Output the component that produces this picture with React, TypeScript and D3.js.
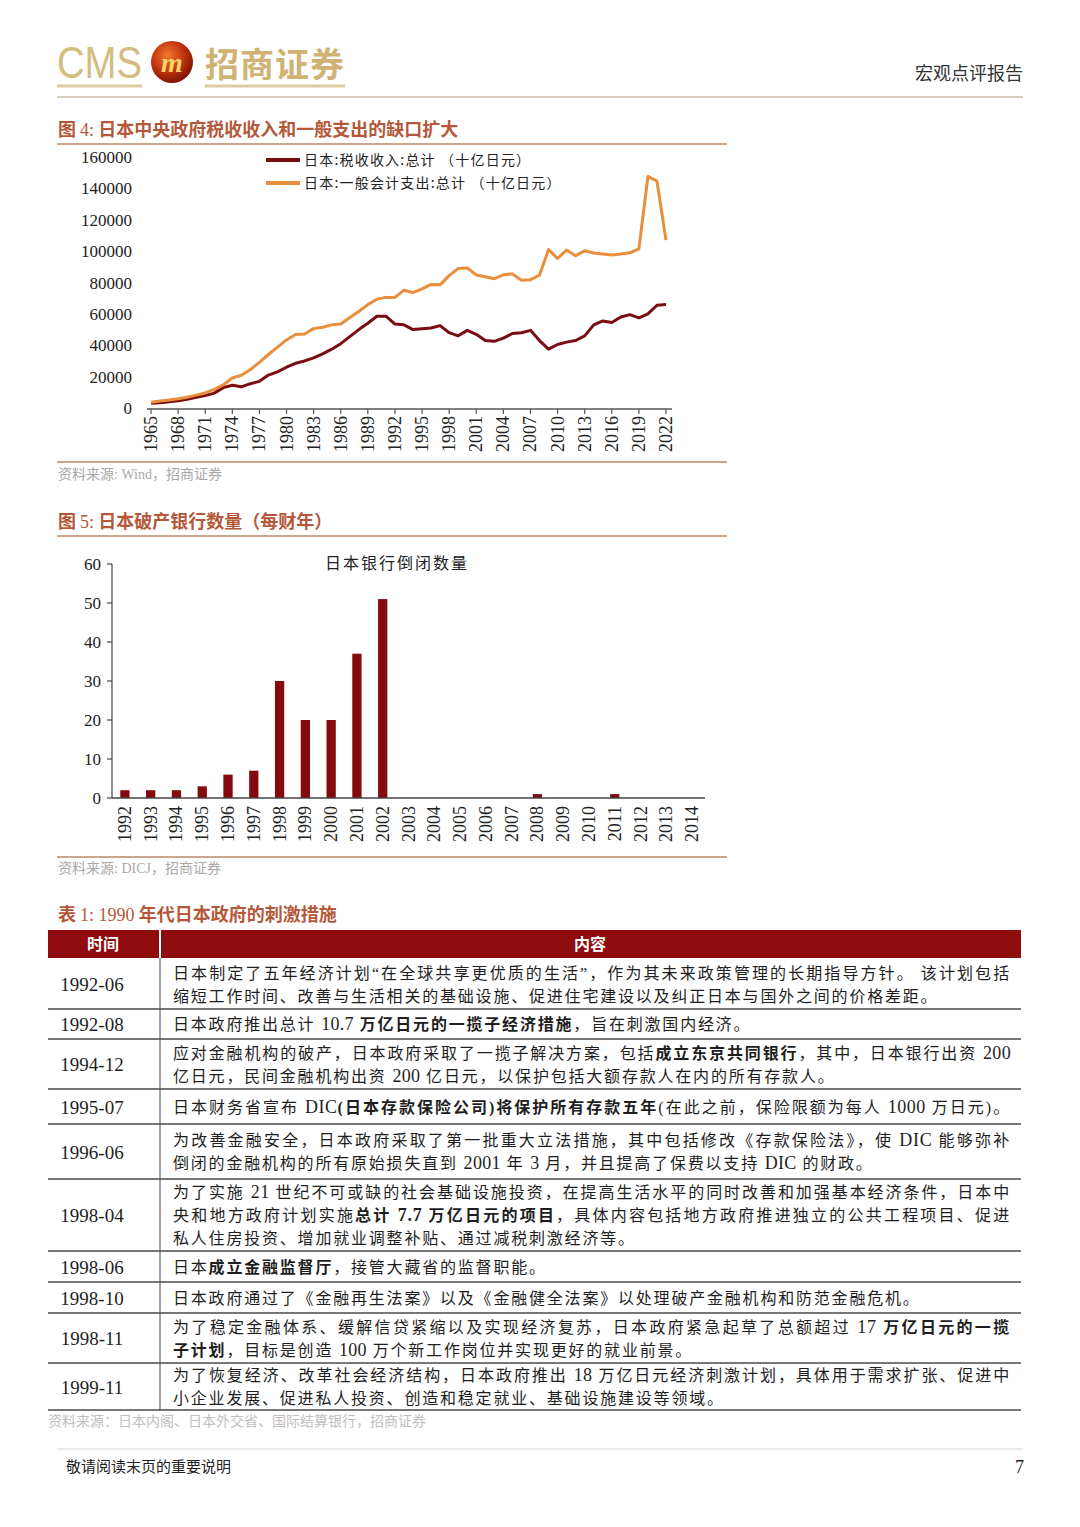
import React from 'react';
import * as d3 from 'd3';

const SERIF = "'Liberation Serif', 'DejaVu Serif', 'Noto Sans CJK SC', serif";
const CJK = "'Noto Sans CJK SC', 'Noto Sans CJK JP', sans-serif";
const TITLE_COLOR = '#B5583A';
const RULE_COLOR = '#C9A68C';
const SOURCE_COLOR = '#A8A8A8';

// 图4 data (十亿日元), 1965-2022
const startYear = 1965;
const taxRevenue = [
  3000, 3300, 3900, 4600, 5500, 6900, 7900, 9500, 13000, 14500,
  13500, 15500, 17000, 21000, 23000, 26000, 28500, 30000, 32000, 34500,
  37500, 41000, 45500, 50000, 54000, 58500, 58500, 53500, 53000, 50000,
  50500, 51000, 52500, 48000, 46000, 49500, 47000, 43000, 42500, 44500,
  47500, 48000, 49500, 43000, 37500, 40500, 42000, 43000, 46000, 53000,
  55500, 54500, 58000, 59500, 57500, 60000, 65500, 66000,
];
const generalExpenditure = [
  3700, 4500, 5100, 5900, 6900, 8200, 9600, 11900, 14700, 19100,
  20900, 24500, 29100, 34100, 38800, 43400, 46900, 47200, 50600, 51500,
  53000, 53600, 57700, 61500, 65900, 69300, 70500, 70500, 75100, 73600,
  75900, 78800, 78500, 84400, 89000, 89300, 84800, 83700, 82400, 84900,
  85500, 81400, 81800, 84700, 101000, 95300, 100700, 97100, 100200, 98800,
  98200, 97500, 98100, 98900, 101400, 147600, 144600, 107000,
];
const lineYears = taxRevenue.map((_, i) => startYear + i);
const lineTickYears = [1965, 1968, 1971, 1974, 1977, 1980, 1983, 1986, 1989, 1992, 1995, 1998, 2001, 2004, 2007, 2010, 2013, 2016, 2019, 2022];
const lineYTicks = [0, 20000, 40000, 60000, 80000, 100000, 120000, 140000, 160000];
const seriesNames = ['日本:税收收入:总计 （十亿日元）', '日本:一般会计支出:总计 （十亿日元）'];
const seriesColors = ['#7A0D12', '#E98E3C'];

// 图5 data
const bankYears = ['1992', '1993', '1994', '1995', '1996', '1997', '1998', '1999', '2000', '2001', '2002', '2003', '2004', '2005', '2006', '2007', '2008', '2009', '2010', '2011', '2012', '2013', '2014'];
const bankFailures = [2, 2, 2, 3, 6, 7, 30, 20, 20, 37, 51, 0, 0, 0, 0, 0, 1, 0, 0, 1, 0, 0, 0];
const barYTicks = [0, 10, 20, 30, 40, 50, 60];

// 表1
const tableDates = ['1992-06', '1992-08', '1994-12', '1995-07', '1996-06', '1998-04', '1998-06', '1998-10', '1998-11', '1999-11'];
const tableLines = [
  ['日本制定了五年经济计划“在全球共享更优质的生活”，作为其未来政策管理的长期指导方针。 该计划包括', '缩短工作时间、改善与生活相关的基础设施、促进住宅建设以及纠正日本与国外之间的价格差距。'],
  ['日本政府推出总计 10.7 **万亿日元的一揽子经济措施**，旨在刺激国内经济。'],
  ['应对金融机构的破产，日本政府采取了一揽子解决方案，包括**成立东京共同银行**，其中，日本银行出资 200', '亿日元，民间金融机构出资 200 亿日元，以保护包括大额存款人在内的所有存款人。'],
  ['日本财务省宣布 DIC**(日本存款保险公司)将保护所有存款五年**(在此之前，保险限额为每人 1000 万日元)。'],
  ['为改善金融安全，日本政府采取了第一批重大立法措施，其中包括修改《存款保险法》，使 DIC 能够弥补', '倒闭的金融机构的所有原始损失直到 2001 年 3 月，并且提高了保费以支持 DIC 的财政。'],
  ['为了实施 21 世纪不可或缺的社会基础设施投资，在提高生活水平的同时改善和加强基本经济条件，日本中', '央和地方政府计划实施**总计 7.7 万亿日元的项目**，具体内容包括地方政府推进独立的公共工程项目、促进', '私人住房投资、增加就业调整补贴、通过减税刺激经济等。'],
  ['日本**成立金融监督厅**，接管大藏省的监督职能。'],
  ['日本政府通过了《金融再生法案》以及《金融健全法案》以处理破产金融机构和防范金融危机。'],
  ['为了稳定金融体系、缓解信贷紧缩以及实现经济复苏，日本政府紧急起草了总额超过 17 **万亿日元的一揽**', '**子计划**，目标是创造 100 万个新工作岗位并实现更好的就业前景。'],
  ['为了恢复经济、改革社会经济结构，日本政府推出 18 万亿日元经济刺激计划，具体用于需求扩张、促进中', '小企业发展、促进私人投资、创造和稳定就业、基础设施建设等领域。'],
];
const rowHeights = [50, 30, 50, 35, 55, 72, 31, 31, 50, 47];
const fullWidthLines = [[true, false], [false], [true, false], [true], [true, false], [true, true, false], [false], [false], [true, false], [true, false]];

const LineChart: React.FC = () => {
  const x = d3.scaleLinear().domain([1965, 2022]).range([151, 666]);
  const y = d3.scaleLinear().domain([0, 160000]).range([408, 157]);
  const line = d3.line<number>().x((_, i) => x(lineYears[i])).y(d => y(d));
  const series = [taxRevenue, generalExpenditure];
  return (
    <g>
      <text x={58} y={136} fontFamily={CJK} fontSize={18} fontWeight={700} fill={TITLE_COLOR}>
        图 <tspan fontFamily={SERIF} fontWeight={400}>4:</tspan>  日本中央政府税收收入和一般支出的缺口扩大
      </text>
      <line x1={57} x2={727} y1={144} y2={144} stroke={RULE_COLOR} strokeWidth={2} />
      {lineYTicks.map(t => (
        <text key={t} x={132} y={y(t) + 6} textAnchor="end" fontFamily={SERIF} fontSize={17} fill="#222">{t}</text>
      ))}
      <line x1={147} x2={672} y1={409} y2={409} stroke="#555" strokeWidth={1.5} />
      {lineTickYears.map(t => (
        <g key={t} transform={`translate(${x(t)},409)`}>
          <line y2={5} stroke="#555" strokeWidth={1.2} />
          <text transform="translate(6,7) rotate(-90)" textAnchor="end" fontFamily={SERIF} fontSize={18} fill="#222">{t}</text>
        </g>
      ))}
      {series.map((s, i) => (
        <path key={i} d={line(s) || ''} fill="none" stroke={seriesColors[i]} strokeWidth={3} strokeLinejoin="round" />
      ))}
      {seriesNames.map((n, i) => (
        <g key={n} transform={`translate(266,${160 + i * 23})`}>
          <line x1={0} x2={34} stroke={seriesColors[i]} strokeWidth={4} />
          <text x={38} y={5} fontFamily={CJK} fontSize={14} letterSpacing={1.2} fill="#222">{n}</text>
        </g>
      ))}
      <line x1={57} x2={727} y1={462} y2={462} stroke={RULE_COLOR} strokeWidth={2} />
      <text x={58} y={479} fontFamily={SERIF} fontSize={14} fill={SOURCE_COLOR}>资料来源:   Wind，招商证券</text>
    </g>
  );
};

const BarChart: React.FC = () => {
  const x = d3.scaleBand<string>().domain(bankYears).range([112, 705]).paddingInner(0.64).paddingOuter(0.32);
  const y = d3.scaleLinear().domain([0, 60]).range([798, 564]);
  return (
    <g>
      <text x={58} y={528} fontFamily={CJK} fontSize={18} fontWeight={700} fill={TITLE_COLOR}>
        图 <tspan fontFamily={SERIF} fontWeight={400}>5:</tspan>  日本破产银行数量（每财年）
      </text>
      <line x1={57} x2={727} y1={536} y2={536} stroke={RULE_COLOR} strokeWidth={2} />
      <text x={397} y={569} textAnchor="middle" fontFamily={CJK} fontSize={16} letterSpacing={2} fill="#222">日本银行倒闭数量</text>
      {bankYears.map((yr, i) => (
        <rect key={yr} x={x(yr)} y={y(bankFailures[i])} width={x.bandwidth()} height={y(0) - y(bankFailures[i])} fill="#840A0E" />
      ))}
      <line x1={112} x2={112} y1={564} y2={798} stroke="#444" strokeWidth={1.2} />
      {barYTicks.map(t => (
        <g key={t}>
          <line x1={107} x2={112} y1={y(t)} y2={y(t)} stroke="#444" strokeWidth={1.2} />
          <text x={101} y={y(t) + 6} textAnchor="end" fontFamily={SERIF} fontSize={17} fill="#222">{t}</text>
        </g>
      ))}
      <line x1={112} x2={705} y1={798} y2={798} stroke="#444" strokeWidth={1.5} />
      {bankYears.map(yr => (
        <text key={yr} transform={`translate(${(x(yr) || 0) + x.bandwidth() / 2 + 6},806) rotate(-90)`} textAnchor="end" fontFamily={SERIF} fontSize={18} fill="#222">{yr}</text>
      ))}
      <line x1={57} x2={727} y1={857} y2={857} stroke={RULE_COLOR} strokeWidth={2} />
      <text x={58} y={873} fontFamily={SERIF} fontSize={14} fill={SOURCE_COLOR}>资料来源:   DICJ，招商证券</text>
    </g>
  );
};

// render one table line: **bold** segments, latin/digit runs in serif without extra spacing
const RichLine: React.FC<{ text: string; y: number; full: boolean }> = ({ text, y, full }) => {
  const parts = text.split('**');
  return (
    <text x={173} y={y} fontFamily={SERIF} fontSize={16} letterSpacing={1.8} fill="#1e1e1e"
      {...(full ? { textLength: 838, lengthAdjust: 'spacing' } : {})}>
      {parts.flatMap((p, i) =>
        p.split(/([A-Za-z\d][A-Za-z\d.]*)/).filter(s => s.length > 0).map((s, k) => {
          const latin = /^[A-Za-z\d]/.test(s);
          return (
            <tspan key={`${i}-${k}`} fontWeight={i % 2 === 1 ? 700 : 400}
              fontSize={latin ? 18 : undefined} letterSpacing={latin ? 0.3 : undefined}>{s}</tspan>
          );
        })
      )}
    </text>
  );
};

const Table: React.FC = () => {
  const tops = rowHeights.reduce<number[]>((acc, h, i) => { acc.push(i === 0 ? 959 : acc[i - 1] + rowHeights[i - 1]); return acc; }, []);
  const bottom = tops[tops.length - 1] + rowHeights[rowHeights.length - 1];
  return (
    <g>
      <text x={58} y={921} fontFamily={CJK} fontSize={18} fontWeight={700} fill={TITLE_COLOR}>
        表 <tspan fontFamily={SERIF} fontWeight={400}>1:  1990</tspan> 年代日本政府的刺激措施
      </text>
      <rect x={48} y={930} width={111} height={28} fill="#8E0C0E" />
      <rect x={161} y={930} width={860} height={28} fill="#8E0C0E" />
      <text x={103} y={950} textAnchor="middle" fontFamily={CJK} fontSize={16} fontWeight={700} fill="#fff">时间</text>
      <text x={590} y={950} textAnchor="middle" fontFamily={CJK} fontSize={16} fontWeight={700} fill="#fff">内容</text>
      <line x1={160} x2={160} y1={958} y2={bottom} stroke="#444" strokeWidth={1} />
      {tableDates.map((d, i) => {
        const top = tops[i];
        const h = rowHeights[i];
        const lines = tableLines[i];
        const cy = top + h / 2;
        const first = cy - ((lines.length - 1) * 23) / 2 + 6;
        return (
          <g key={d}>
            <text x={92} y={cy + 7} textAnchor="middle" fontFamily={SERIF} fontSize={19} fill="#1e1e1e">{d}</text>
            {lines.map((l, j) => (
              <RichLine key={j} text={l} y={first + j * 23} full={fullWidthLines[i][j]} />
            ))}
            <line x1={48} x2={1021} y1={top + h} y2={top + h} stroke="#4a4a4a" strokeWidth={1.6} />
          </g>
        );
      })}
      <text x={48} y={bottom + 16} fontFamily={CJK} fontSize={14} fill="#C0C0C0">资料来源：日本内阁、日本外交省、国际结算银行，招商证券</text>
    </g>
  );
};

const Header: React.FC = () => (
  <g>
    <defs>
      <radialGradient id="ball" cx="40%" cy="35%" r="65%">
        <stop offset="0%" stopColor="#F07A2A" />
        <stop offset="60%" stopColor="#C2310F" />
        <stop offset="100%" stopColor="#7E1606" />
      </radialGradient>
    </defs>
    <text x={57} y={78} fontFamily="'Liberation Sans Narrow', 'Liberation Sans', sans-serif" fontSize={44} textLength={85} lengthAdjust="spacingAndGlyphs" fill="#D5BC80">CMS</text>
    <line x1={57} x2={142} y1={86} y2={86} stroke="#DCCBA0" strokeWidth={3} />
    <circle cx={172} cy={62} r={21} fill="url(#ball)" />
    <text x={172} y={72} textAnchor="middle" fontFamily={SERIF} fontStyle="italic" fontWeight={700} fontSize={28} fill="#F5D46A">m</text>
    <text x={205} y={77} fontFamily={CJK} fontSize={34} fontWeight={700} letterSpacing={1} fill="#CFB274">招商证券</text>
    <line x1={205} x2={345} y1={86} y2={86} stroke="#DCCBA0" strokeWidth={3} />
    <text x={1023} y={80} textAnchor="end" fontFamily={CJK} fontSize={18} fill="#333">宏观点评报告</text>
    <line x1={57} x2={1023} y1={97} y2={97} stroke="#C8BBAA" strokeWidth={1.5} />
  </g>
);

const Footer: React.FC = () => (
  <g>
    <line x1={57} x2={1023} y1={1449} y2={1449} stroke="#D8D8D8" strokeWidth={1} />
    <text x={66} y={1472} fontFamily={CJK} fontSize={15} fill="#222">敬请阅读末页的重要说明</text>
    <text x={1024} y={1473} textAnchor="end" fontFamily={SERIF} fontSize={18} fill="#222">7</text>
  </g>
);

export default function App() {
  return (
    <svg width={1080} height={1527} style={{ position: 'absolute', left: 0, top: 0, background: '#fff' }}>
      <rect width={1080} height={1527} fill="#fff" />
      <Header />
      <LineChart />
      <BarChart />
      <Table />
      <Footer />
    </svg>
  );
}
